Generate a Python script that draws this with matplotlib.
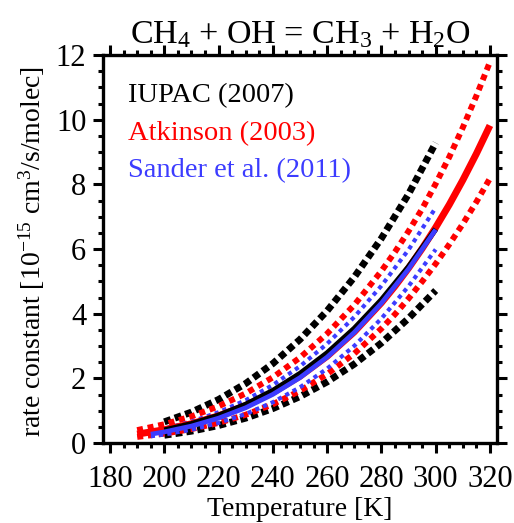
import numpy as np
import matplotlib
matplotlib.use('Agg')
import matplotlib.pyplot as plt

plt.rcParams['font.family'] = 'Liberation Serif'
plt.rcParams['mathtext.fontset'] = 'custom'
plt.rcParams['mathtext.rm'] = 'Liberation Serif'
plt.rcParams['mathtext.it'] = 'Liberation Serif:italic'

# IUPAC (2007), 200-300 K
T_iupac = [200, 210, 220, 230, 240, 250, 260, 270, 280, 290, 300]
k_iupac = [0.396, 0.592, 0.853, 1.191, 1.618, 2.145, 2.781, 3.539, 4.425, 5.448, 6.617]
k_iupac_hi = [0.654, 0.954, 1.345, 1.841, 2.457, 3.203, 4.089, 5.130, 6.330, 7.698, 9.284]
k_iupac_lo = [0.240, 0.367, 0.541, 0.770, 1.066, 1.437, 1.891, 2.441, 3.093, 3.856, 4.716]

# Atkinson (2003), 190-320 K
T_atk = [190, 200, 210, 220, 230, 240, 250, 260, 270, 280, 285, 290, 295, 300, 305, 310, 315, 320]
k_atk = [0.274, 0.410, 0.595, 0.840, 1.158, 1.561, 2.065, 2.684, 3.436, 4.338, 4.851, 5.409,
         6.013, 6.667, 7.370, 8.131, 8.947, 9.821]
k_atk_hi = [0.398, 0.580, 0.822, 1.136, 1.534, 2.031, 2.642, 3.383, 4.269, 5.319, 5.911, 6.551,
            7.240, 8.017, 8.844, 9.757, 10.736, 11.785]
k_atk_lo = [0.189, 0.290, 0.431, 0.622, 0.874, 1.199, 1.613, 2.130, 2.765, 3.538, 3.981, 4.466,
            4.993, 5.543, 6.142, 6.776, 7.456, 8.184]

# Sander et al. (2011), 195-300 K
T_jpl = [195, 200, 210, 220, 230, 240, 250, 260, 270, 280, 290, 300]
k_jpl = [0.273, 0.343, 0.523, 0.768, 1.090, 1.504, 2.022, 2.656, 3.420, 4.325, 5.383, 6.600]
k_jpl_hi = [0.358, 0.444, 0.662, 0.951, 1.324, 1.794, 2.372, 3.069, 3.896, 4.862, 5.976, 7.276]
k_jpl_lo = [0.208, 0.264, 0.413, 0.620, 0.898, 1.261, 1.723, 2.299, 3.003, 3.848, 4.848, 5.986]

RED = '#ff0000'
BLUE = '#3c3cff'

fig = plt.figure(figsize=(5.14, 5.23), dpi=100)
ax = fig.add_axes([103/514, 1-443/523, 394/514, 388/523])

# uncertainty ranges
for kk in (k_iupac_hi, k_iupac_lo):
    ax.plot(T_iupac, kk, color='black', lw=5, dashes=(1.0, 0.6), dash_capstyle='butt', zorder=2)
for kk in (k_atk_hi, k_atk_lo):
    ax.plot(T_atk, kk, color=RED, lw=4.3, dashes=(1.0, 0.8), dash_capstyle='butt', zorder=3)
for kk in (k_jpl_hi, k_jpl_lo):
    ax.plot(T_jpl, kk, color=BLUE, lw=3, dashes=(1.0, 1.0), dash_capstyle='butt', zorder=4)

# recommended values
ax.plot(T_atk, k_atk, color=RED, lw=5, solid_capstyle='butt', zorder=5)
ax.plot(T_iupac, k_iupac, color='black', lw=4, solid_capstyle='butt', zorder=6)
ax.plot(T_jpl, k_jpl, color=BLUE, lw=3.4, solid_capstyle='butt', zorder=7)

ax.set_xlim(177.4, 322.6)
ax.set_ylim(0, 12)
ax.set_xticks(np.arange(180, 321, 20))
ax.set_xticks(np.arange(180, 321, 5), minor=True)
ax.set_yticks(np.arange(0, 13, 2))
ax.set_yticks(np.arange(0, 12.1, 0.5), minor=True)
ax.tick_params(which='both', direction='out', top=True, right=True, width=2.2, labelsize=22)
ax.tick_params(which='major', length=7, pad=5)
ax.tick_params(axis='x', which='major', pad=9)
ax.tick_params(which='minor', length=3.5)
for sp in ax.spines.values():
    sp.set_linewidth(2.4)

ax.text(0.0635, 0.879, 'IUPAC (2007)', transform=ax.transAxes, fontsize=20.5, color='black', va='baseline')
ax.text(0.0635, 0.781, 'Atkinson (2003)', transform=ax.transAxes, fontsize=20.5, color=RED, va='baseline')
ax.text(0.0635, 0.686, 'Sander et al. (2011)', transform=ax.transAxes, fontsize=20.5, color=BLUE, va='baseline')

fig.text(300/514, 1-43/523, 'CH$_4$ + OH = CH$_3$ + H$_2$O', ha='center', va='baseline', fontsize=24.5)
fig.text(300/514, 1-516/523, 'Temperature [K]', ha='center', va='baseline', fontsize=20)
fig.text(32/514, 1-252/523, 'rate constant [10$^{-15}$ cm$^3$/s/molec]', ha='center', va='center',
         rotation=90, fontsize=20)

fig.savefig('out.png', dpi=100)
